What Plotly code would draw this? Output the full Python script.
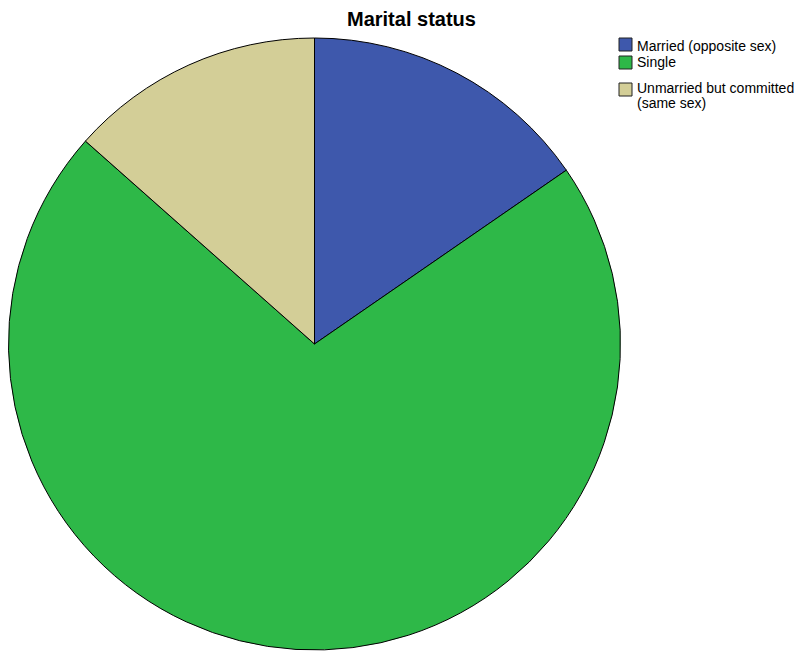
import plotly.graph_objects as go

categories = ["Married (opposite sex)", "Single", "Unmarried but committed<br>(same sex)"]
counts = [8, 37, 7]
colors = ["#3E58AC", "#2EB848", "#D3CE97"]

W, H = 794, 653
cx, cy, r = 314.5, 344, 306

fig = go.Figure(go.Pie(
    labels=categories,
    values=counts,
    sort=False,
    direction="clockwise",
    rotation=0,
    textinfo="none",
    hoverinfo="label+value+percent",
    showlegend=False,
    marker=dict(colors=colors, line=dict(color="black", width=1)),
    domain=dict(x=[(cx - r) / W, (cx + r) / W], y=[(H - cy - r) / H, (H - cy + r) / H]),
))

# manual legend (SPSS style: small swatch, tight text)
sw_x0, sw_size, text_x = 619, 13, 635
sw_tops = [38, 56, 83]
line_centers = [[46], [62.5], [88, 103.5]]
shapes, annotations = [], []
for cat, col, top, centers in zip(categories, colors, sw_tops, line_centers):
    shapes.append(dict(type="rect", xref="paper", yref="paper",
                       x0=sw_x0 / W, x1=(sw_x0 + sw_size) / W,
                       y0=1 - (top + sw_size) / H, y1=1 - top / H,
                       fillcolor=col, line=dict(color="#222222", width=1)))
    for line_text, yc in zip(cat.split("<br>"), centers):
        annotations.append(dict(text=line_text, xref="paper", yref="paper",
                                x=text_x / W, y=1 - yc / H, xanchor="left", yanchor="middle",
                                showarrow=False, font=dict(size=14, color="black")))

annotations.append(dict(text="<b>Marital status</b>", xref="paper", yref="paper",
                        x=411.5 / W, y=1 - 19 / H, xanchor="center", yanchor="middle",
                        showarrow=False, font=dict(size=20, color="black")))

fig.update_layout(
    width=W, height=H,
    margin=dict(l=0, r=0, t=0, b=0),
    paper_bgcolor="white",
    font=dict(family="Liberation Sans, Arial, sans-serif", size=12, color="black"),
    shapes=shapes,
    annotations=annotations,
)

fig.write_html("out.html", config={"displayModeBar": False},
               post_script="document.body.style.margin='0';document.body.style.padding='0';document.body.style.overflow='hidden';")
